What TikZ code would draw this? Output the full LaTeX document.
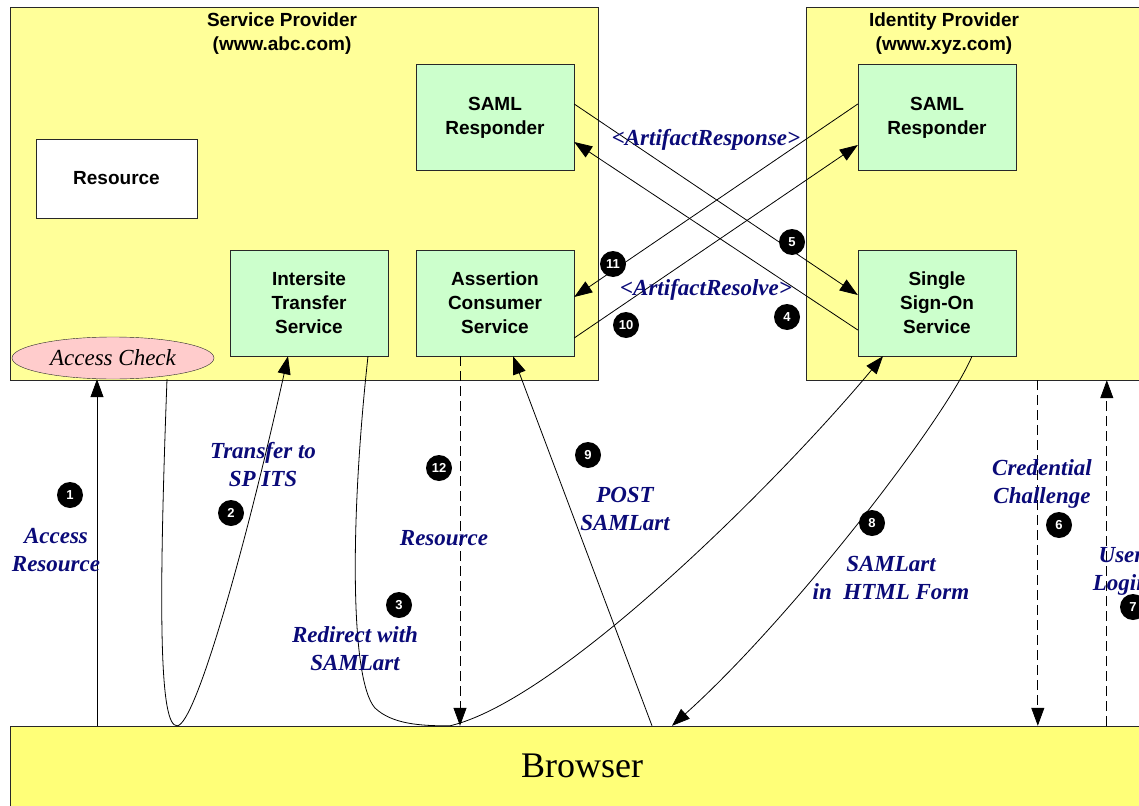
\documentclass[tikz,border=0pt]{standalone}
\usepackage{fontspec}
\setmainfont{Liberation Serif}
\setsansfont{Liberation Sans}
\usepackage{tikz}
\usetikzlibrary{positioning,arrows.meta,shapes.geometric}
\definecolor{samlEdge}{RGB}{40,40,40}
\definecolor{samlYellow}{RGB}{255,255,153}
\definecolor{samlBrowser}{RGB}{255,255,120}
\definecolor{samlGreen}{RGB}{204,255,204}
\definecolor{samlPink}{RGB}{255,204,204}
\definecolor{samlNavy}{RGB}{10,10,120}
\tikzset{
    base/.style={font=\sffamily\bfseries\fontsize{19}{24}\selectfont, align=center},
    zone/.style={rectangle, draw=samlEdge, fill=samlYellow, inner sep=0pt},
    service/.style={base, rectangle, draw=samlEdge, fill=samlGreen,
                    minimum width=158pt, minimum height=106pt, inner sep=0pt},
    stepmark/.style={circle, fill=black, text=white, inner sep=0pt, minimum size=26pt,
                     font=\sffamily\bfseries\fontsize{13}{13}\selectfont},
    msg/.style={font=\bfseries\itshape\fontsize{23}{28}\selectfont, text=samlNavy, align=center},
    flow/.style={-{Triangle[length=18pt,width=13pt]}, line width=0.8pt, color=black},
    reply/.style={flow, dash pattern=on 10pt off 5pt}
}
\begin{document}
\begin{tikzpicture}[x=1pt,y=-1pt]
  \useasboundingbox (0,0) rectangle (1139,805);

  % Domains and browser
  \node[zone, minimum width=588pt, minimum height=373pt] (sp) at (304,193.5) {};
  \node[zone, minimum width=360pt, minimum height=373pt] (idp) at (986,193.5) {};
  \node[zone, fill=samlBrowser, minimum width=1144pt, minimum height=80pt,
        font=\fontsize{36}{40}\selectfont] (browser) at (582,766) {Browser};
  \node[base] (sptitle) at (282,34) {Service Provider\\(www.abc.com)};
  \node[base] (idptitle) at (944,34) {Identity Provider\\(www.xyz.com)};

  % Service provider side
  \node[service] (spresp) at (495,117.5) {SAML\\Responder};
  \node[service, fill=white, minimum width=161pt, minimum height=79pt] (res) at (116.5,178.5) {Resource};
  \node[service] (its) at (309,303) {Intersite\\Transfer\\Service};
  \node[service] (acs) at (495,303) {Assertion\\Consumer\\Service};
  \node[ellipse, draw=samlEdge, fill=samlPink, minimum width=202pt, minimum height=42pt,
        inner sep=0pt, font=\itshape\fontsize{23}{23}\selectfont] (acheck) at (113,358) {Access Check};

  % Identity provider side
  \node[service] (idpresp) at (937,117.5) {SAML\\Responder};
  \node[service] (sso) at (937,303) {Single\\Sign-On\\Service};

  % Browser flows
  \coordinate (a1) at ([xshift=-16pt]acheck.south);
  \draw[flow] (a1 |- browser.north) -- (a1);
  \coordinate (dip2) at ([xshift=-405pt]browser.north);
  \draw[flow] ([xshift=54pt]acheck.south) .. controls (158,620) and (160,726) .. (dip2)
    .. controls (195,726) and (245,550) .. ([xshift=-21pt]its.south);
  \coordinate (dip3) at ([xshift=-132pt]browser.north);
  \draw[flow] ([xshift=59pt]its.south) .. controls (350,520) and (350,680) .. (375,708)
    .. controls (392,724) and (420,726) .. (dip3)
    .. controls (560,700) and (780,480) .. ([xshift=-54pt]sso.south);
  \draw[flow] ([xshift=35pt]sso.south) .. controls (945,420) and (790,620) .. ([xshift=90pt]browser.north);
  \draw[flow] ([xshift=70pt]browser.north) -- ([xshift=18pt]acs.south);
  \draw[reply] ([xshift=-35pt]acs.south) -- ([xshift=-122pt]browser.north);
  \coordinate (c6) at ([xshift=232pt]idp.south west);
  \coordinate (c7) at ([xshift=301pt]idp.south west);
  \draw[reply] (c6) -- (c6 |- browser.north);
  \draw[reply] (c7 |- browser.north) -- (c7);

  % Back channel
  \draw[flow] ([yshift=13.5pt]spresp.east) -- ([yshift=8pt]sso.west);
  \draw[flow] ([yshift=-27pt]sso.west) -- ([yshift=-24.5pt]spresp.east);
  \draw[flow] ([yshift=13.5pt]idpresp.west) -- ([yshift=6pt]acs.east);
  \draw[flow] ([yshift=-35pt]acs.east) -- ([yshift=-27.5pt]idpresp.west);

  % Messages
  \node[msg] (mresponse) at (706,140) {<ArtifactResponse>};
  \node[msg] (mresolve) at (706,290) {<ArtifactResolve>};
  \node[msg] (maccess) at (56,550) {Access\\Resource};
  \node[msg] (mtransfer) at (263,465) {Transfer to\\SP ITS};
  \node[msg] (mredirect) at (355,649) {Redirect with\\SAMLart};
  \node[msg] (mresource) at (444,538) {Resource};
  \node[msg] (mpost) at (625,509) {POST\\SAMLart};
  \node[msg] (mform) at (891,578) {SAMLart\\in~~HTML Form};
  \node[msg] (mchallenge) at (1042,484) {Credential\\Challenge};
  \node[msg] (mlogin) at (1121,571) {User\\Login};

  % Step numbers
  \foreach \n/\x/\y in {1/70/495, 2/231/513, 3/399/605, 4/787/317, 5/792/242, 6/1059/525,
                        7/1133/607, 8/872/523, 9/588/455, 10/626/325, 11/613/264, 12/439/468}
    \node[stepmark] (s\n) at (\x,\y) {\n};
\end{tikzpicture}
\end{document}
